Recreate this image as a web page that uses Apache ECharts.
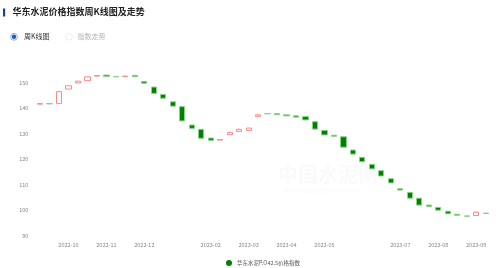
<!DOCTYPE html>
<html>
<head>
<meta charset="utf-8">
<script src="https://cdn.jsdelivr.net/npm/echarts@6/dist/echarts.min.js"></script>
<style>
html,body{margin:0;padding:0;background:#fff;}
#chart{width:500px;height:268px;}
</style>
</head>
<body>
<div id="chart"></div>
<script>
// ---- data ----
var weeks = [
  '2022-09-16','2022-09-23','2022-09-30','2022-10-07','2022-10-14','2022-10-21','2022-10-28',
  '2022-11-04','2022-11-11','2022-11-18','2022-11-25','2022-12-02','2022-12-09','2022-12-16',
  '2022-12-23','2023-01-06','2023-01-13','2023-01-20','2023-02-03','2023-02-10','2023-02-17',
  '2023-02-24','2023-03-03','2023-03-10','2023-03-17','2023-03-24','2023-04-07','2023-04-14',
  '2023-04-21','2023-04-28','2023-05-05','2023-05-12','2023-05-19','2023-05-26','2023-06-02',
  '2023-06-09','2023-06-16','2023-06-30','2023-07-07','2023-07-14','2023-07-21','2023-07-28',
  '2023-08-04','2023-08-11','2023-08-18','2023-08-25','2023-09-01','2023-09-08'
];
var openVals = [
  141.6,141.8,141.8,147.5,149.9,150.8,152.6,153.0,152.4,152.4,152.9,150.5,148.3,145.4,
  142.5,140.6,133.4,131.7,128.3,127.5,129.6,130.9,131.3,136.8,137.9,137.9,137.4,137.0,
  136.7,134.7,131.3,129.4,128.8,123.6,120.75,118.0,115.5,112.35,108.4,107.0,104.7,102.0,
  101.1,99.6,98.4,97.75,97.9,98.85
];
var closeVals = [
  141.8,141.7,146.5,148.8,150.6,152.3,152.8,152.5,152.3,152.6,152.4,149.8,145.8,143.9,
  140.8,135.0,132.1,128.2,127.4,127.7,130.4,131.7,132.2,137.4,137.8,137.5,137.0,136.5,
  135.4,131.8,129.5,129.0,124.7,122.0,119.0,116.2,113.4,110.7,107.9,104.7,102.0,101.5,
  100.0,98.6,98.0,97.65,99.2,98.75
];
var highVals = [
  141.8,141.8,146.5,148.8,150.6,152.3,152.8,153.0,152.4,152.6,152.9,150.5,148.3,145.4,
  142.5,140.6,133.4,131.7,128.3,127.7,130.8,132.0,132.2,137.7,137.9,137.9,137.4,137.0,
  136.7,134.7,131.3,129.4,128.8,123.6,120.75,118.0,115.5,112.35,108.4,107.0,104.7,102.0,
  101.1,99.6,98.4,97.75,99.6,98.85
];
var lowVals = [
  141.6,141.7,141.8,147.5,149.9,150.8,152.6,152.5,152.3,152.4,152.4,149.8,145.8,143.9,
  140.8,135.0,132.1,128.2,127.4,127.5,129.6,130.9,131.3,136.8,137.8,137.5,137.0,136.5,
  135.4,131.8,129.5,129.0,124.7,122.0,119.0,116.2,113.4,110.7,107.9,104.7,102.0,101.5,
  100.0,98.6,98.0,97.65,97.9,98.75
];
var monthLabels = ['2022-10','2022-11','2022-12','2023-02','2023-03','2023-04','2023-05','2023-07','2023-08','2023-09'];
var seriesName = '华东水泥P.O42.5价格指数';
var titleText = '华东水泥价格指数周K线图及走势';
var yMin = 90, yMax = 160, yStep = 10;

// ---- build ----
var kData = weeks.map(function (w, i) {
  return [openVals[i], closeVals[i], lowVals[i], highVals[i]];
});
function showLabel(i) {
  var m = weeks[i].substring(0, 7);
  var first = i === 0 || weeks[i - 1].substring(0, 7) !== m;
  return first && monthLabels.indexOf(m) >= 0;
}

var chart = echarts.init(document.getElementById('chart'), null, {renderer: 'canvas'});
chart.setOption({
  animation: false,
  backgroundColor: '#fff',
  textStyle: {fontFamily: '"Noto Sans CJK SC", "Noto Sans", sans-serif'},
  graphic: [
    {type: 'rect', shape: {x: 3, y: 8.5, width: 2.2, height: 8}, style: {fill: '#1d3f8f'}},
    {type: 'text', left: 12.5, top: 7.5, style: {text: titleText, fill: '#222', font: 'bold 9px "Noto Sans CJK SC", sans-serif'}},
    {type: 'circle', shape: {cx: 14, cy: 36.8, r: 3.4}, style: {fill: '#fff', stroke: '#8fb0e8', lineWidth: 1}},
    {type: 'circle', shape: {cx: 14, cy: 36.8, r: 2.2}, style: {fill: '#2457c5'}},
    {type: 'text', left: 24, top: 32.6, style: {text: '周K线图', fill: '#333', font: '7px "Noto Sans CJK SC", sans-serif'}},
    {type: 'circle', shape: {cx: 69, cy: 36.8, r: 3.4}, style: {fill: '#fff', stroke: '#f0f0f0', lineWidth: 1}},
    {type: 'text', left: 77.5, top: 32.6, style: {text: '指数走势', fill: '#b5b5b5', font: '7px "Noto Sans CJK SC", sans-serif'}},
    {type: 'text', left: 278, top: 164, z: -1, style: {text: '中国水泥网', fill: '#f9faf9', font: 'bold 20px "Noto Sans CJK SC", sans-serif'}},
    {type: 'text', left: 284, top: 186, z: -1, style: {text: 'www.ccement.com', fill: '#f9faf9', font: '9px "Noto Sans", sans-serif'}}
  ],
  legend: {
    left: 221, top: 255,
    itemWidth: 6, itemHeight: 6, itemGap: 10,
    icon: 'circle',
    textStyle: {fontSize: 5.5, color: '#555'},
    data: [{name: seriesName, itemStyle: {color: '#008000', borderWidth: 0}}]
  },
  grid: {left: 35.3, right: 9.6, top: 57.2, bottom: 32.3},
  xAxis: {
    type: 'category',
    data: weeks,
    boundaryGap: true,
    axisLine: {show: false},
    axisTick: {show: false},
    splitLine: {show: false},
    axisLabel: {
      interval: function (i) { return showLabel(i); },
      formatter: function (v) { return v.substring(0, 7); },
      color: '#888', fontSize: 5.5, margin: 6
    }
  },
  yAxis: {
    type: 'value',
    min: yMin, max: yMax, interval: yStep,
    axisLine: {show: false},
    axisTick: {show: false},
    splitLine: {show: false},
    axisLabel: {color: '#888', fontSize: 5.5, margin: 7, showMaxLabel: false}
  },
  series: [{
    name: seriesName,
    type: 'candlestick',
    data: kData,
    barWidth: '60%',
    itemStyle: {
      color: '#ffffff',
      color0: '#008000',
      borderColor: '#f58a8a',
      borderColor0: '#86d486',
      borderWidth: 1
    }
  }]
});
</script>
</body>
</html>
